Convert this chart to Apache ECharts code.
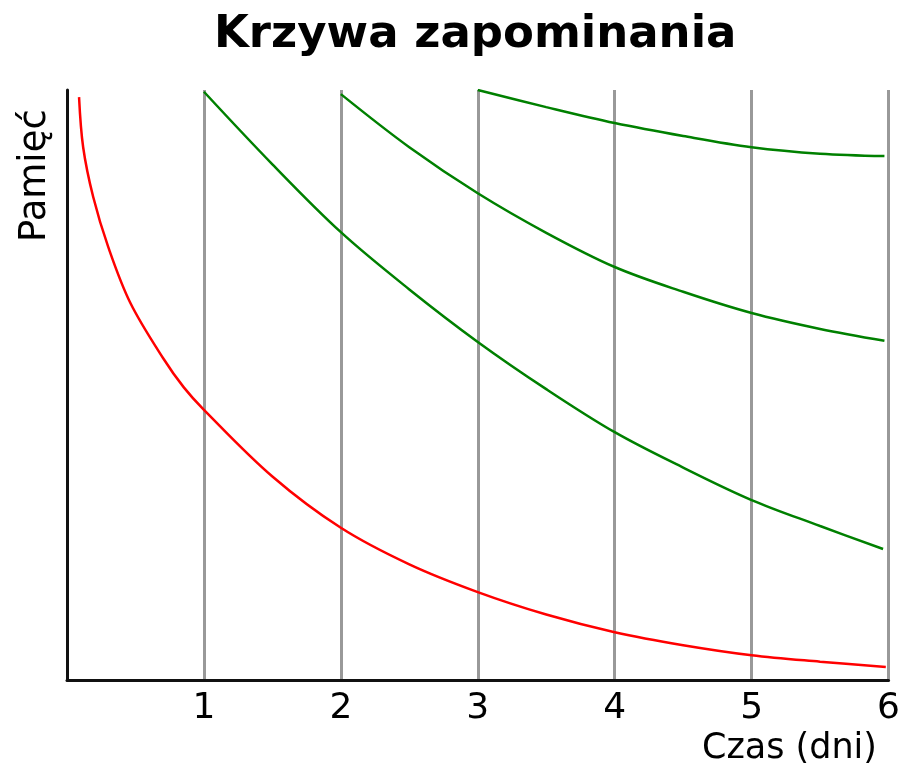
<!DOCTYPE html>
<html>
<head>
<meta charset="utf-8">
<title>Krzywa zapominania</title>
<script src="https://cdn.jsdelivr.net/npm/echarts@6/dist/echarts.min.js"></script>
<style>
  html, body { margin: 0; padding: 0; background: #fff; }
  #main { width: 903px; height: 769px; }
</style>
</head>
<body>
<div id="main"></div>
<script>
  // dane (czas w dniach, pamiec w % od 0 do 100)
  var dayTicks = [1, 2, 3, 4, 5, 6];

  var redDays = [0.088, 0.118, 0.191, 0.301, 0.463, 0.706, 0.853, 1.0, 1.5, 2.0, 2.5, 3.0, 3.5, 4.0, 4.5, 5.0, 5.5, 5.98];
  var redMem  = [98.8, 90.3, 81.9, 73.4, 63.9, 54.4, 49.6, 45.8, 34.5, 25.8, 19.6, 14.9, 11.1, 8.1, 5.9, 4.2, 3.1, 2.2];

  var green1Days = [1.0, 1.5, 2.0, 2.5, 3.0, 3.5, 4.0, 4.5, 5.0, 5.5, 5.96];
  var green1Mem  = [99.7, 87.4, 75.9, 66.2, 57.3, 49.3, 42.0, 36.0, 30.5, 26.1, 22.2];

  var green2Days = [2.0, 2.5, 3.0, 3.5, 4.0, 4.5, 5.0, 5.5, 5.97];
  var green2Mem  = [99.3, 90.3, 82.5, 75.8, 70.0, 65.8, 62.2, 59.5, 57.5];

  var green3Days = [3.0, 3.5, 4.0, 4.5, 5.0, 5.5, 5.97];
  var green3Mem  = [100, 97.1, 94.4, 92.2, 90.3, 89.2, 88.8];

  function pairs(xs, ys) {
    return xs.map(function (x, i) { return [x, ys[i]]; });
  }

  var font = 'DejaVu Sans';
  var myChart = echarts.init(document.getElementById('main'));

  function curve(name, xs, ys, color) {
    return {
      name: name,
      type: 'line',
      smooth: 0.35,
      symbol: 'none',
      data: pairs(xs, ys),
      lineStyle: { color: color, width: 2.5 }
    };
  }

  myChart.setOption({
    animation: false,
    title: {
      text: 'Krzywa zapominania',
      left: 209,
      top: 8,
      textStyle: {
        fontFamily: font,
        fontWeight: 'bold',
        fontSize: 45,
        color: '#000'
      }
    },
    grid: {
      left: 67,
      right: 13,
      top: 90,
      bottom: 89
    },
    xAxis: {
      type: 'value',
      min: 0,
      max: 6,
      interval: 1,
      axisLine: {
        lineStyle: { color: '#111', width: 3 }
      },
      axisTick: { show: false },
      axisLabel: {
        margin: 11,
        fontFamily: font,
        fontSize: 36,
        color: '#000',
        formatter: function (v) {
          return dayTicks.indexOf(v) >= 0 ? String(v) : '';
        }
      },
      splitLine: {
        show: true,
        lineStyle: { color: '#999', width: 3 }
      }
    },
    yAxis: {
      type: 'value',
      min: 0,
      max: 100,
      axisLine: {
        show: true,
        lineStyle: { color: '#111', width: 3 }
      },
      axisTick: { show: false },
      axisLabel: { show: false },
      splitLine: { show: false }
    },
    graphic: [
      {
        type: 'text',
        right: 26,
        top: 731,
        style: {
          text: 'Czas (dni)',
          fontFamily: font,
          fontSize: 35,
          fill: '#000'
        }
      },
      {
        type: 'text',
        x: 17,
        y: 242,
        rotation: Math.PI / 2,
        style: {
          text: 'Pamięć',
          fontFamily: font,
          fontSize: 37,
          fill: '#000'
        }
      }
    ],
    series: [
      curve('bez powtórek', redDays, redMem, '#ff0000'),
      curve('powtórka 1', green1Days, green1Mem, '#008000'),
      curve('powtórka 2', green2Days, green2Mem, '#008000'),
      curve('powtórka 3', green3Days, green3Mem, '#008000')
    ]
  });
</script>
</body>
</html>
